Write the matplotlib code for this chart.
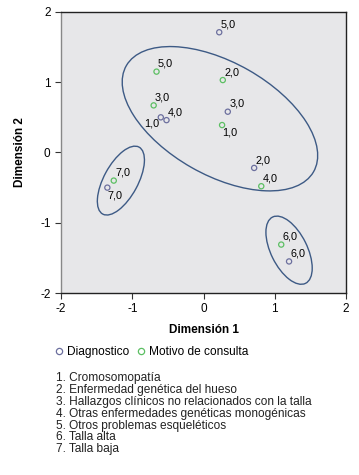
import matplotlib
matplotlib.use("Agg")
import matplotlib.pyplot as plt
from matplotlib.patches import Ellipse
from matplotlib.lines import Line2D

plt.rcParams['font.family'] = ['Liberation Sans', 'DejaVu Sans']
plt.rcParams['axes.unicode_minus'] = False

# ---- data ----
diag_x = [-0.60, 0.71, 0.34, -0.52, 0.22, 1.20, -1.35]
diag_y = [0.50, -0.22, 0.58, 0.46, 1.71, -1.55, -0.50]
diag_lab = ["1,0", "2,0", "3,0", "4,0", "5,0", "6,0", "7,0"]

mot_x = [0.26, 0.27, -0.70, 0.81, -0.66, 1.09, -1.26]
mot_y = [0.39, 1.03, 0.67, -0.48, 1.15, -1.31, -0.40]
mot_lab = ["1,0", "2,0", "3,0", "4,0", "5,0", "6,0", "7,0"]

# group ellipses: centre x, centre y, width, height, angle
ell_cx = [0.23, -1.16, 1.20]
ell_cy = [0.48, -0.40, -1.39]
ell_w = [3.03, 1.08, 1.05]
ell_h = [1.60, 0.48, 0.51]
ell_ang = [-30, 62, 116]

legend_items = [
    "1. Cromosomopatía",
    "2. Enfermedad genética del hueso",
    "3. Hallazgos clínicos no relacionados con la talla",
    "4. Otras enfermedades genéticas monogénicas",
    "5. Otros problemas esqueléticos",
    "6. Talla alta",
    "7. Talla baja",
]

blue = "#6c6f9e"
green = "#5cbf63"
line_col = "#3d5a85"

fig = plt.figure(figsize=(3.59, 4.75), dpi=100)
ax = fig.add_axes([0.170, 0.383, 0.794, 0.592])
ax.set_facecolor("#e7e7e9")

ax.scatter(diag_x, diag_y, s=14, facecolors="none", edgecolors=blue, linewidths=0.9, zorder=3)
ax.scatter(mot_x, mot_y, s=14, facecolors="none", edgecolors=green, linewidths=0.9, zorder=3)

for cx, cy, w, h, a in zip(ell_cx, ell_cy, ell_w, ell_h, ell_ang):
    ax.add_patch(Ellipse((cx, cy), w, h, angle=a, fill=False,
                         edgecolor=line_col, linewidth=1.0, zorder=2))

# labels mostly above-right of the point
def put(x, y, s, where):
    if where == "ul":
        ax.annotate(s, (x, y), xytext=(-1, -1), textcoords="offset points",
                    ha="right", va="top", fontsize=7.8)
    elif where == "lr":
        ax.annotate(s, (x, y), xytext=(0, -2), textcoords="offset points",
                    ha="left", va="top", fontsize=7.8)
    else:
        ax.annotate(s, (x, y), xytext=(1, 2), textcoords="offset points",
                    ha="left", va="bottom", fontsize=7.8)

for x, y, s in zip(diag_x, diag_y, diag_lab):
    put(x, y, s, "ul" if s == "1,0" else ("lr" if s == "7,0" else "ur"))
for x, y, s in zip(mot_x, mot_y, mot_lab):
    put(x, y, s, "lr" if s == "1,0" else "ur")

ax.set_xlim(-2, 2)
ax.set_ylim(-2, 2)
ax.set_xticks([-2, -1, 0, 1, 2])
ax.set_yticks([-2, -1, 0, 1, 2])
ax.tick_params(labelsize=8.5, length=4, width=0.8, color="#333333")
ax.spines["left"].set_color("#888888")
for sp in ["bottom", "top", "right"]:
    ax.spines[sp].set_color("#222222")
for sp in ax.spines.values():
    sp.set_linewidth(1.0)

ax.set_xlabel("Dimensión 1", fontsize=8.5, fontweight="bold", labelpad=6)
ax.set_ylabel("Dimensión 2", fontsize=8.5, fontweight="bold", labelpad=10)

handles = [
    Line2D([], [], marker="o", linestyle="none", markersize=4.5, markerfacecolor="none",
           markeredgecolor=blue, markeredgewidth=0.9, label="Diagnostico"),
    Line2D([], [], marker="o", linestyle="none", markersize=4.5, markerfacecolor="none",
           markeredgecolor=green, markeredgewidth=0.9, label="Motivo de consulta"),
]
fig.legend(handles=handles, loc="center left", bbox_to_anchor=(0.155, 1 - 352 / 475),
           ncol=2, frameon=False, fontsize=8.6, handlelength=0.5, handletextpad=0.45,
           columnspacing=0.7, borderpad=0, borderaxespad=0)

for i, item in enumerate(legend_items):
    fig.text(56 / 359, 1 - (378 + i * 11.9) / 475, item, fontsize=8.6,
             ha="left", va="center", color="#222222")

fig.savefig("out.png", dpi=100)
